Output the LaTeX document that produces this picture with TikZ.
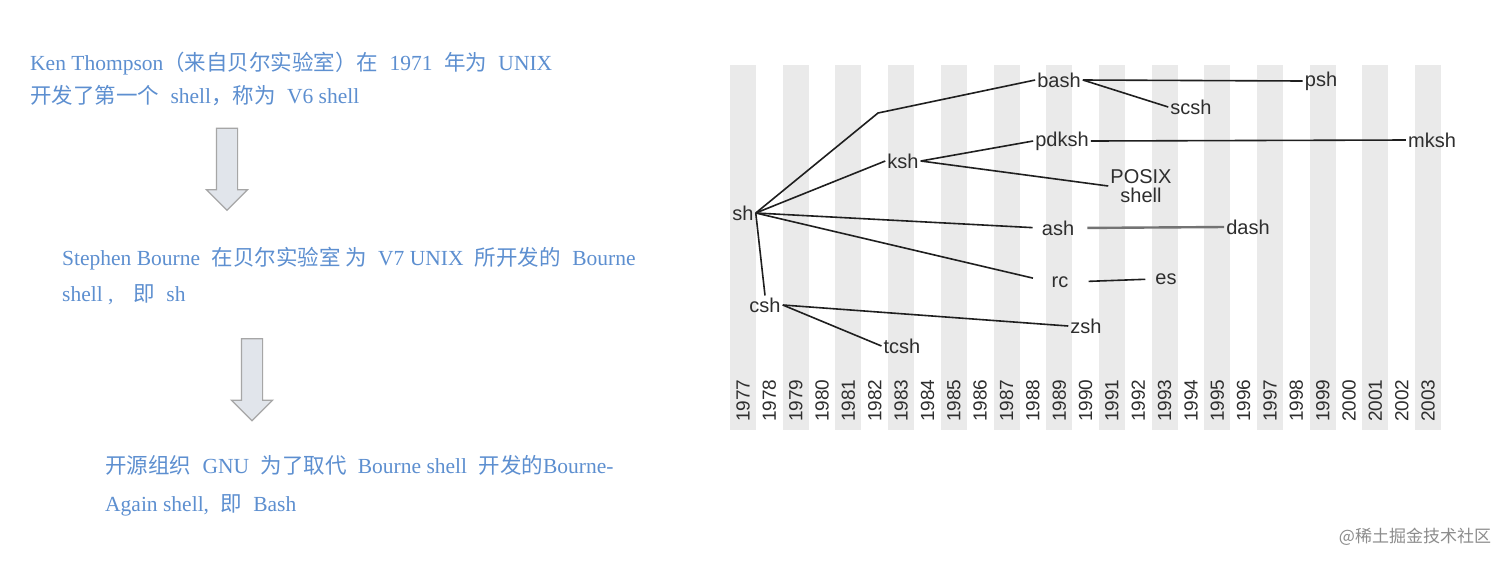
\documentclass[tikz,border=0pt]{standalone}
\usepackage{fontspec}
\setmainfont{Liberation Serif}
\newfontfamily\cjk{Noto Sans CJK SC}
\newfontfamily\diagfont{Liberation Sans}
\usetikzlibrary{shapes.arrows}

\definecolor{txtblue}{HTML}{5D8FD0}
\definecolor{stripegray}{HTML}{EAEAEA}
\definecolor{arrowfill}{HTML}{E1E5EB}
\newcommand\zh[1]{\hspace{6pt}{\cjk #1}\hspace{6pt}}

\begin{document}
\begin{tikzpicture}[x=1pt, y=-1pt,
    para/.style={anchor=west, inner sep=0pt, align=left, text=txtblue},
    downarrow/.style={single arrow, draw=black!35, fill=arrowfill,
                      line width=1.2pt, minimum height=82pt,
                      single arrow head extend=10pt, single arrow tip angle=90,
                      inner xsep=0pt, inner ysep=10pt, rotate=-90},
    shell/.style={inner sep=2pt, text=black!82,
                  font=\diagfont\fontsize{20}{19}\selectfont},
    year/.style={rotate=90, anchor=west, inner sep=0pt, text=black!82,
                 font=\diagfont\fontsize{19}{19}\selectfont},
    link/.style={line width=1.6pt, black!88}]

    \fill[white] (0,0) rectangle (1512,566);
    \useasboundingbox (0,0) rectangle (1512,566);

    \node[para, font=\fontsize{21.5}{33}\selectfont] (p1) at (30,78.5)
        {Ken Thompson{\cjk （来自贝尔实验室）在}\hspace{6pt} 1971 \zh{年为} UNIX\\
         {\cjk 开发了第一个}\hspace{6pt} shell{\cjk ，称为}\hspace{6pt} V6 shell};
    \node[downarrow] (a1) at (227,164) {};

    \node[para, font=\fontsize{21.5}{36}\selectfont] (p2) at (62,276)
        {Stephen Bourne \zh{在贝尔实验室 为} V7 UNIX \zh{所开发的} Bourne\\
         shell ,\hspace{14pt}\zh{即} sh};
    \node[downarrow] (a2) at (252,374.5) {};

    \node[para, font=\fontsize{21.5}{38}\selectfont] (p3) at (105,486)
        {{\cjk 开源组织}\hspace{6pt} GNU \zh{为了取代} Bourne shell\hspace{6pt} {\cjk 开发的}Bourne-\\
         Again shell, \zh{即} Bash};

    \foreach \i in {0,2,...,26} {
            \fill[stripegray] ({730+26.35*\i},65) rectangle +(26,365);
        }
    \foreach \i in {0,...,26} {
            \pgfmathtruncatemacro{\yr}{1977+\i}
            \node[year] (yr\i) at ({743+26.35*\i},422) {\yr};
        }

    \node[shell] (sh)    at (743,213)  {sh};
    \node[shell] (bash)  at (1059,80)  {bash};
    \node[shell] (psh)   at (1321,81)  {psh};
    \node[shell] (scsh)  at (1191,107) {scsh};
    \node[shell] (ksh)   at (903,161)  {ksh};
    \node[shell] (pdksh) at (1062,141) {pdksh};
    \node[shell] (mksh)  at (1432,140) {mksh};
    \node[shell, align=center] (posix) at (1141,186) {POSIX\\shell};
    \node[shell] (ash)   at (1058,228) {ash};
    \node[shell] (dash)  at (1248,227) {dash};
    \node[shell] (rc)    at (1060,282) {rc};
    \node[shell] (es)    at (1166,279) {es};
    \node[shell] (csh)   at (765,305)  {csh};
    \node[shell] (zsh)   at (1086,326) {zsh};
    \node[shell] (tcsh)  at (902,346)  {tcsh};
    \coordinate (bk) at (878,113);

    \draw[link] (sh.east) -- (bk) -- (bash.west);
    \draw[link] (sh.east) -- (ksh.west);
    \draw[link, shorten >=7pt] (sh.east) -- (ash.west);
    \draw[link, shorten >=17pt] (sh.east) -- (rc.west);
    \draw[link] (sh.east) -- (csh.north);
    \draw[link] (bash.east) -- (psh.west);
    \draw[link] (bash.east) -- (scsh.west);
    \draw[link] (ksh.east) -- (pdksh.west);
    \draw[link] (ksh.east) -- (posix.west);
    \draw[link] (pdksh.east) -- (mksh.west);
    \draw[link, black!55, line width=2.4pt, shorten <=11pt] (ash.east) -- (dash.west);
    \draw[link, shorten <=18pt, shorten >=8pt] (rc.east) -- (es.west);
    \draw[link] (csh.east) -- (zsh.west);
    \draw[link] (csh.east) -- (tcsh.west);

    \node[text=black!45, inner sep=0pt, font=\cjk\fontsize{17}{17}\selectfont]
        (mark) at (1415,537) {@稀土掘金技术社区};
\end{tikzpicture}
\end{document}
